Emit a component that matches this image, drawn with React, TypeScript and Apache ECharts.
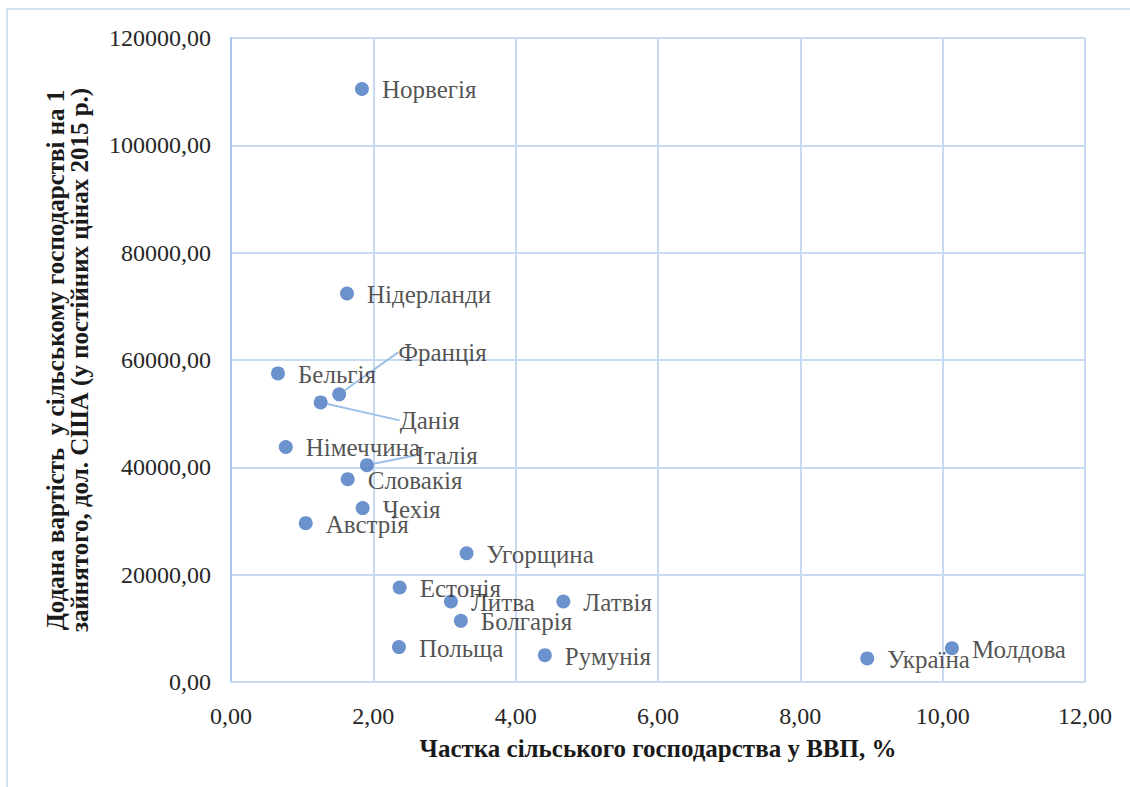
import React, { useEffect, useRef } from "react";
import * as echarts from "echarts";

const countries = [
  "Норвегія", "Нідерланди", "Бельгія", "Франція", "Данія", "Німеччина", "Італія",
  "Словакія", "Чехія", "Австрія", "Угорщина", "Естонія", "Литва", "Латвія",
  "Болгарія", "Польща", "Румунія", "Україна", "Молдова",
];
const agriShare = [
  1.84, 1.63, 0.66, 1.52, 1.26, 0.77, 1.91,
  1.64, 1.85, 1.05, 3.31, 2.37, 3.09, 4.67,
  3.23, 2.36, 4.41, 8.94, 10.13,
];
const valueAdded = [
  110500, 72400, 57500, 53600, 52100, 43800, 40400,
  37800, 32400, 29600, 24000, 17600, 15000, 15000,
  11400, 6500, 5000, 4400, 6300,
];
// label offsets (dx, dy) for labels moved away from their point
const labelShift: Record<string, [number, number]> = {
  "Франція": [39, -42],
  "Данія": [59, 18],
  "Італія": [29, -10],
};
const xTicks = { min: 0, max: 12, interval: 2 };
const yTicks = { min: 0, max: 120000, interval: 20000 };

const fmt = (v: number) => v.toFixed(2).replace(".", ",");

export default function App() {
  const ref = useRef<HTMLDivElement>(null);
  useEffect(() => {
    if (!ref.current) return;
    const chart = echarts.init(ref.current, null, { renderer: "svg" });
    const font = "Liberation Serif";
    const data = countries.map((name, i) => {
      const shifted = !!labelShift[name];
      return {
        name,
        value: [agriShare[i], valueAdded[i]],
        labelLine: {
          show: shifted,
          lineStyle: { color: "#9dc0e8", width: 2 },
        },
      };
    });
    chart.setOption({
      animation: false,
      textStyle: { fontFamily: font },
      graphic: [
        {
          type: "rect",
          shape: { x: 7, y: 9, width: 1140, height: 800 },
          style: { fill: "none", stroke: "#d3e1f3", lineWidth: 2 },
          silent: true,
        },
      ],
      grid: { left: 231, right: 45, top: 38, bottom: 105, containLabel: false },
      xAxis: {
        type: "value",
        min: xTicks.min,
        max: xTicks.max,
        interval: xTicks.interval,
        name: "Частка сільського господарства у ВВП, %",
        nameLocation: "middle",
        nameGap: 54,
        nameTextStyle: {
          fontFamily: font,
          fontSize: 25,
          fontWeight: "bold",
          color: "#1a1a1a",
          verticalAlign: "top",
        },
        axisLine: { show: true, lineStyle: { color: "#c8daf1", width: 2 } },
        axisTick: { show: false },
        axisLabel: {
          formatter: fmt,
          fontFamily: font,
          fontSize: 24,
          color: "#262626",
          margin: 22,
        },
        splitLine: { show: true, lineStyle: { color: "#c8daf1", width: 2 } },
      },
      yAxis: {
        type: "value",
        min: yTicks.min,
        max: yTicks.max,
        interval: yTicks.interval,
        name:
          "Додана вартість  у сільському господарстві на 1\nзайнятого, дол. США (у постійних цінах 2015 р.)",
        nameLocation: "middle",
        nameRotate: 90,
        nameGap: 140,
        nameTextStyle: {
          fontFamily: font,
          fontSize: 25,
          fontWeight: "bold",
          color: "#1a1a1a",
          lineHeight: 24,
          align: "center",
        },
        axisLine: { show: true, lineStyle: { color: "#a7c5ea", width: 2 } },
        axisTick: { show: false },
        axisLabel: {
          formatter: fmt,
          fontFamily: font,
          fontSize: 24,
          color: "#262626",
          margin: 20,
        },
        splitLine: { show: true, lineStyle: { color: "#c8daf1", width: 2 } },
      },
      series: [
        {
          type: "scatter",
          symbol: "circle",
          symbolSize: 14,
          itemStyle: { color: "#4677bf" },
          data,
          label: {
            show: true,
            position: "right",
            distance: 13,
            formatter: (p: any) => p.name,
            fontFamily: font,
            fontSize: 25,
            color: "#262626",
          },
          labelLayout: (p: any) => {
            const s = labelShift[countries[p.dataIndex]];
            if (s) return { dx: s[0], dy: s[1] };
            return { dy: 1 };
          },
        },
      ],
    });
    return () => chart.dispose();
  }, []);
  return (
    <div
      ref={ref}
      style={{ position: "fixed", left: 0, top: 0, width: 1130, height: 787, background: "#fff" }}
    />
  );
}
